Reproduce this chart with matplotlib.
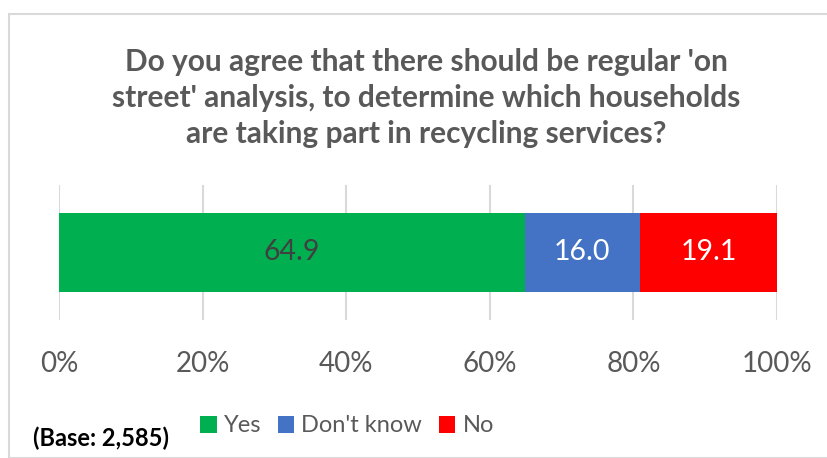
import matplotlib
matplotlib.use("Agg")
import matplotlib.pyplot as plt
from matplotlib.patches import Rectangle

title = "Do you agree that there should be regular 'on\nstreet' analysis, to determine which households\nare taking part in recycling services?"
categories = ["Yes", "Don't know", "No"]
values = [64.9, 16.0, 19.1]
colors = ["#00B050", "#4472C4", "#FF0000"]
label_colors = ["#404040", "white", "white"]
ticks = [0, 20, 40, 60, 80, 100]
tick_labels = ["0%", "20%", "40%", "60%", "80%", "100%"]
base_note = "(Base: 2,585)"

plt.rcParams["font.family"] = ["Lato", "DejaVu Sans"]

fig = plt.figure(figsize=(8.27, 4.58), dpi=100)
W, H = 827, 458

# chart border
fig.patches.append(
    Rectangle((9 / W, 0), 1.0, 1 - 14 / H, transform=fig.transFigure,
              fill=False, edgecolor="#D9D9D9", linewidth=1.5)
)

ax = fig.add_axes([59 / W, 1 - 320 / H, (777 - 59) / W, (320 - 185) / H])

left = 0
for cat, v, c, lc in zip(categories, values, colors, label_colors):
    ax.barh(0, v, left=left, height=0.578, color=c, label=cat, zorder=3)
    ax.text(left + v / 2, 0, "%.1f" % v, ha="center", va="center",
            color=lc, fontsize=20.5, zorder=4)
    left += v

ax.set_xlim(0, 100)
ax.set_ylim(-0.5, 0.5)
ax.set_xticks(ticks)
ax.set_xticklabels(tick_labels)
ax.set_yticks([])
ax.tick_params(axis="x", length=0, pad=22, labelsize=20, labelcolor="#595959")
ax.grid(axis="x", color="#D9D9D9", linewidth=1.5, zorder=0)
for s in ax.spines.values():
    s.set_visible(False)

fig.text(426 / W, 1 - 98 / H, title, ha="center", va="center",
         fontsize=21.5, fontweight="bold", color="#595959", linespacing=1.35)

ax.legend(loc="center", bbox_to_anchor=(347 / W, 1 - 426 / H),
          bbox_transform=fig.transFigure, ncol=3, frameon=False,
          fontsize=17, labelcolor="#595959", handlelength=0.7,
          handleheight=0.7, handletextpad=0.3, columnspacing=0.7)

fig.text(33 / W, 1 - 438 / H, base_note, ha="left", va="center",
         fontsize=17, fontweight="bold", color="black")

fig.savefig("out.png", dpi=100)
